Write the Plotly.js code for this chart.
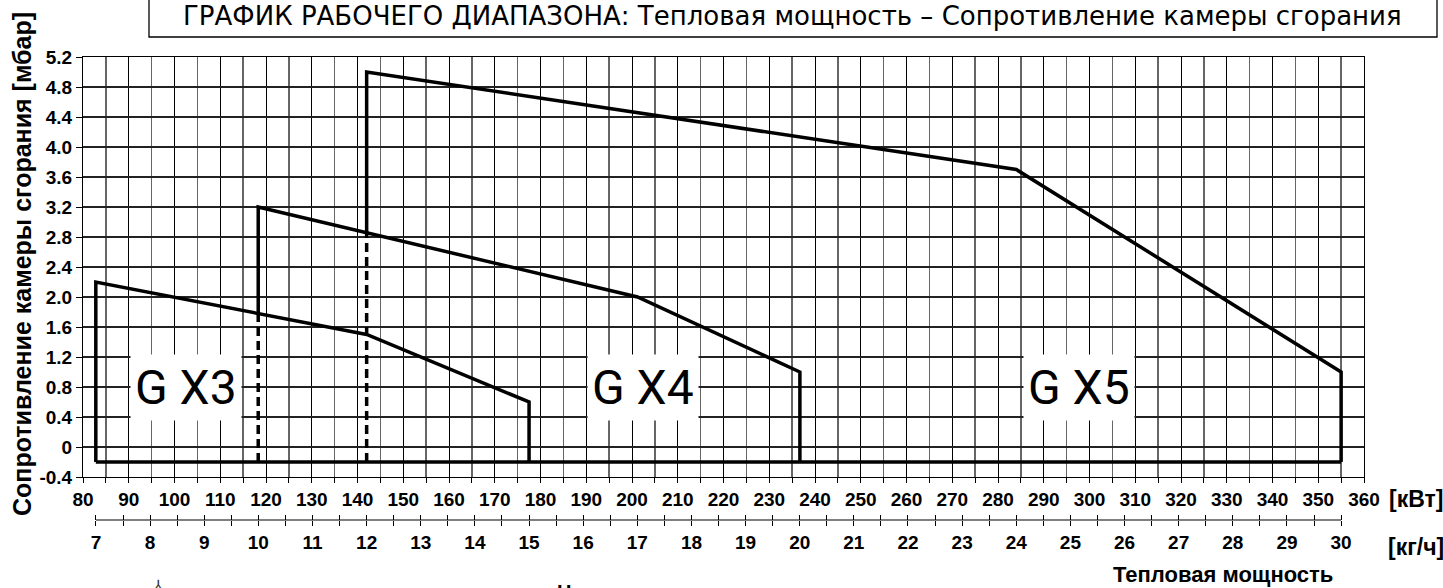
<!DOCTYPE html>
<html>
<head>
<meta charset="utf-8">
<script src="https://cdn.plot.ly/plotly-3.0.1.min.js"></script>
<style>html,body{margin:0;padding:0;background:#fff;}#chart{width:1443px;height:588px;}</style>
</head>
<body>
<div id="chart"></div>
<script>
// ---- data (kW on x, mbar on y) ----
const gx3_kw   = [82.8, 82.8, 142.0, 177.5, 177.5];
const gx3_mbar = [-0.2, 2.2, 1.5, 0.6, -0.2];
const gx4_kw   = [118.3, 118.3, 201.2, 236.7, 236.7];
const gx4_mbar = [1.78, 3.2, 2.0, 1.0, -0.2];
const gx5_kw   = [142.0, 142.0, 284.0, 355.0, 355.0];
const gx5_mbar = [2.86, 5.0, 3.7, 1.0, -0.2];
const base_kw   = [82.8, 355.0];
const base_mbar = [-0.2, -0.2];
const dash10_kw   = [118.3, 118.3];
const dash10_mbar = [-0.2, 1.78];
const dash12_kw   = [142.0, 142.0];
const dash12_mbar = [-0.2, 2.86];
const model_labels = ['G X3', 'G X4', 'G X5'];
const model_label_kw = [102.5, 202.4, 297.7];
const model_label_mbar = [0.79, 0.79, 0.79];
const y_tickvals = [-0.4, 0, 0.4, 0.8, 1.2, 1.6, 2.0, 2.4, 2.8, 3.2, 3.6, 4.0, 4.4, 4.8, 5.2];
const y_ticktext = ['-0.4', '0', '0.4', '0.8', '1.2', '1.6', '2.0', '2.4', '2.8', '3.2', '3.6', '4.0', '4.4', '4.8', '5.2'];
const kgh_tickvals = [7,8,9,10,11,12,13,14,15,16,17,18,19,20,21,22,23,24,25,26,27,28,29,30];
const KW_PER_KGH = 11.833;
const X_RANGE = [80, 360];
const Y_RANGE = [-0.4, 5.2];

// ---- geometry helpers ----
const W = 1443, H = 588;
const M = {l: 83, r: 79, t: 57, b: 68};
const PW = W - M.l - M.r, PH = H - M.t - M.b;
const px = x => (x - M.l) / PW;
const py = y => (H - M.b - y) / PH;
const plotBottom = 477;

const FONT = 'Liberation Sans, Arial, sans-serif';
const lineStyle = {color: '#000', width: 3.5};
const dashStyle = {color: '#000', width: 3.5, dash: '9px,5px'};

const traces = [
  {x: gx3_kw, y: gx3_mbar, mode: 'lines', line: lineStyle, hoverinfo: 'skip', showlegend: false},
  {x: gx4_kw, y: gx4_mbar, mode: 'lines', line: lineStyle, hoverinfo: 'skip', showlegend: false},
  {x: gx5_kw, y: gx5_mbar, mode: 'lines', line: lineStyle, hoverinfo: 'skip', showlegend: false},
  {x: base_kw, y: base_mbar, mode: 'lines', line: lineStyle, hoverinfo: 'skip', showlegend: false},
  {x: dash10_kw, y: dash10_mbar, mode: 'lines', line: dashStyle, hoverinfo: 'skip', showlegend: false},
  {x: dash12_kw, y: dash12_mbar, mode: 'lines', line: dashStyle, hoverinfo: 'skip', showlegend: false},
  {x: [], y: [], xaxis: 'x2', yaxis: 'y', mode: 'lines', showlegend: false},
  {x: [], y: [], xaxis: 'x3', yaxis: 'y', mode: 'lines', showlegend: false}
];

const kghRange = [X_RANGE[0] / KW_PER_KGH, X_RANGE[1] / KW_PER_KGH];
const tickFont = {family: FONT, size: 19, color: '#000', weight: 'bold'};

const annotations = model_labels.map((t, i) => ({
  x: model_label_kw[i], y: model_label_mbar[i], xref: 'x', yref: 'y',
  text: t, showarrow: false, bgcolor: '#fff', borderpad: 4,
  font: {family: 'Roboto, Liberation Sans, Arial, sans-serif', size: 48, color: '#000'}
}));
annotations.push(
  {x: px(22), y: py(264), xref: 'paper', yref: 'paper', text: 'Сопротивление камеры сгорания [мбар]',
   textangle: -90, showarrow: false, xanchor: 'center', yanchor: 'middle',
   font: {family: FONT, size: 25, color: '#000', weight: 'bold'}},
  {x: px(793), y: py(16), xref: 'paper', yref: 'paper', text: 'ГРАФИК РАБОЧЕГО ДИАПАЗОНА: Тепловая мощность – Сопротивление камеры сгорания',
   showarrow: false, xanchor: 'center', yanchor: 'middle',
   font: {family: 'DejaVu Sans, sans-serif', size: 26, color: '#000'}},
  {x: px(1416), y: py(499), xref: 'paper', yref: 'paper', text: '[кВт]', showarrow: false,
   xanchor: 'center', yanchor: 'middle', font: {family: FONT, size: 23, color: '#000', weight: 'bold'}},
  {x: px(1416), y: py(547), xref: 'paper', yref: 'paper', text: '[кг/ч]', showarrow: false,
   xanchor: 'center', yanchor: 'middle', font: {family: FONT, size: 23, color: '#000', weight: 'bold'}},
  {x: px(1223), y: py(574), xref: 'paper', yref: 'paper', text: 'Тепловая мощность', showarrow: false,
   xanchor: 'center', yanchor: 'middle', font: {family: FONT, size: 22, color: '#000', weight: 'bold'}},
  {x: px(564), y: py(579), xref: 'paper', yref: 'paper', text: 'Н', showarrow: false,
   xanchor: 'center', yanchor: 'top', font: {family: FONT, size: 20, color: '#000', weight: 'bold'}},
  {x: px(158), y: py(575), xref: 'paper', yref: 'paper', text: '⅄', showarrow: false,
   xanchor: 'center', yanchor: 'top', font: {family: 'DejaVu Sans, sans-serif', size: 14, color: '#333'}}
);

const layout = {
  width: W, height: H,
  margin: M,
  paper_bgcolor: '#fff', plot_bgcolor: '#fff',
  showlegend: false,
  xaxis: {
    range: X_RANGE, anchor: 'y', tick0: 80, dtick: 10,
    ticks: 'outside', ticklen: 5, tickwidth: 1, tickcolor: '#000',
    showgrid: true, gridcolor: '#000', gridwidth: 1,
    minor: {dtick: 5, ticks: 'outside', ticklen: 5, tickcolor: '#000', showgrid: true, gridcolor: '#666', gridwidth: 1.4},
    showline: true, linecolor: '#000', linewidth: 1, mirror: true, zeroline: false,
    tickfont: tickFont, ticklabelstandoff: 0, fixedrange: true
  },
  yaxis: {
    domain: [py(plotBottom), 1], range: Y_RANGE,
    tickvals: y_tickvals, ticktext: y_ticktext,
    ticks: 'outside', ticklen: 6, tickwidth: 1, tickcolor: '#000',
    showgrid: true, gridcolor: '#222', gridwidth: 1.3,
    showline: true, linecolor: '#000', linewidth: 1, mirror: true, zeroline: false,
    tickfont: tickFont, fixedrange: true
  },
  xaxis2: {
    overlaying: 'x', anchor: 'free', position: 0, range: kghRange,
    tickvals: kgh_tickvals,
    ticks: 'outside', ticklen: 5, tickwidth: 1, tickcolor: '#000',
    minor: {dtick: 0.5, tick0: 7, ticks: 'outside', ticklen: 5, tickcolor: '#000', showgrid: false},
    showgrid: false, showline: false, zeroline: false,
    tickfont: tickFont, ticklabelstandoff: 0, fixedrange: true
  },
  xaxis3: {
    overlaying: 'x', anchor: 'free', position: 0, range: kghRange,
    tickvals: kgh_tickvals, showticklabels: false,
    ticks: 'inside', ticklen: 5, tickwidth: 1, tickcolor: '#000',
    minor: {dtick: 0.5, tick0: 7, ticks: 'inside', ticklen: 5, tickcolor: '#000', showgrid: false},
    showgrid: false, showline: false, zeroline: false, fixedrange: true
  },
  shapes: [
    {type: 'line', xref: 'x2', yref: 'paper', x0: kgh_tickvals[0], x1: kgh_tickvals[kgh_tickvals.length - 1], y0: 0, y1: 0,
     line: {color: '#000', width: 1}},
    {type: 'rect', xref: 'paper', yref: 'paper', x0: px(149), x1: px(1437), y0: py(37), y1: py(-2),
     line: {color: '#000', width: 1.3}, fillcolor: 'rgba(0,0,0,0)'}
  ],
  annotations: annotations
};

Plotly.newPlot('chart', traces, layout, {displayModeBar: false, staticPlot: true});
</script>
</body>
</html>
